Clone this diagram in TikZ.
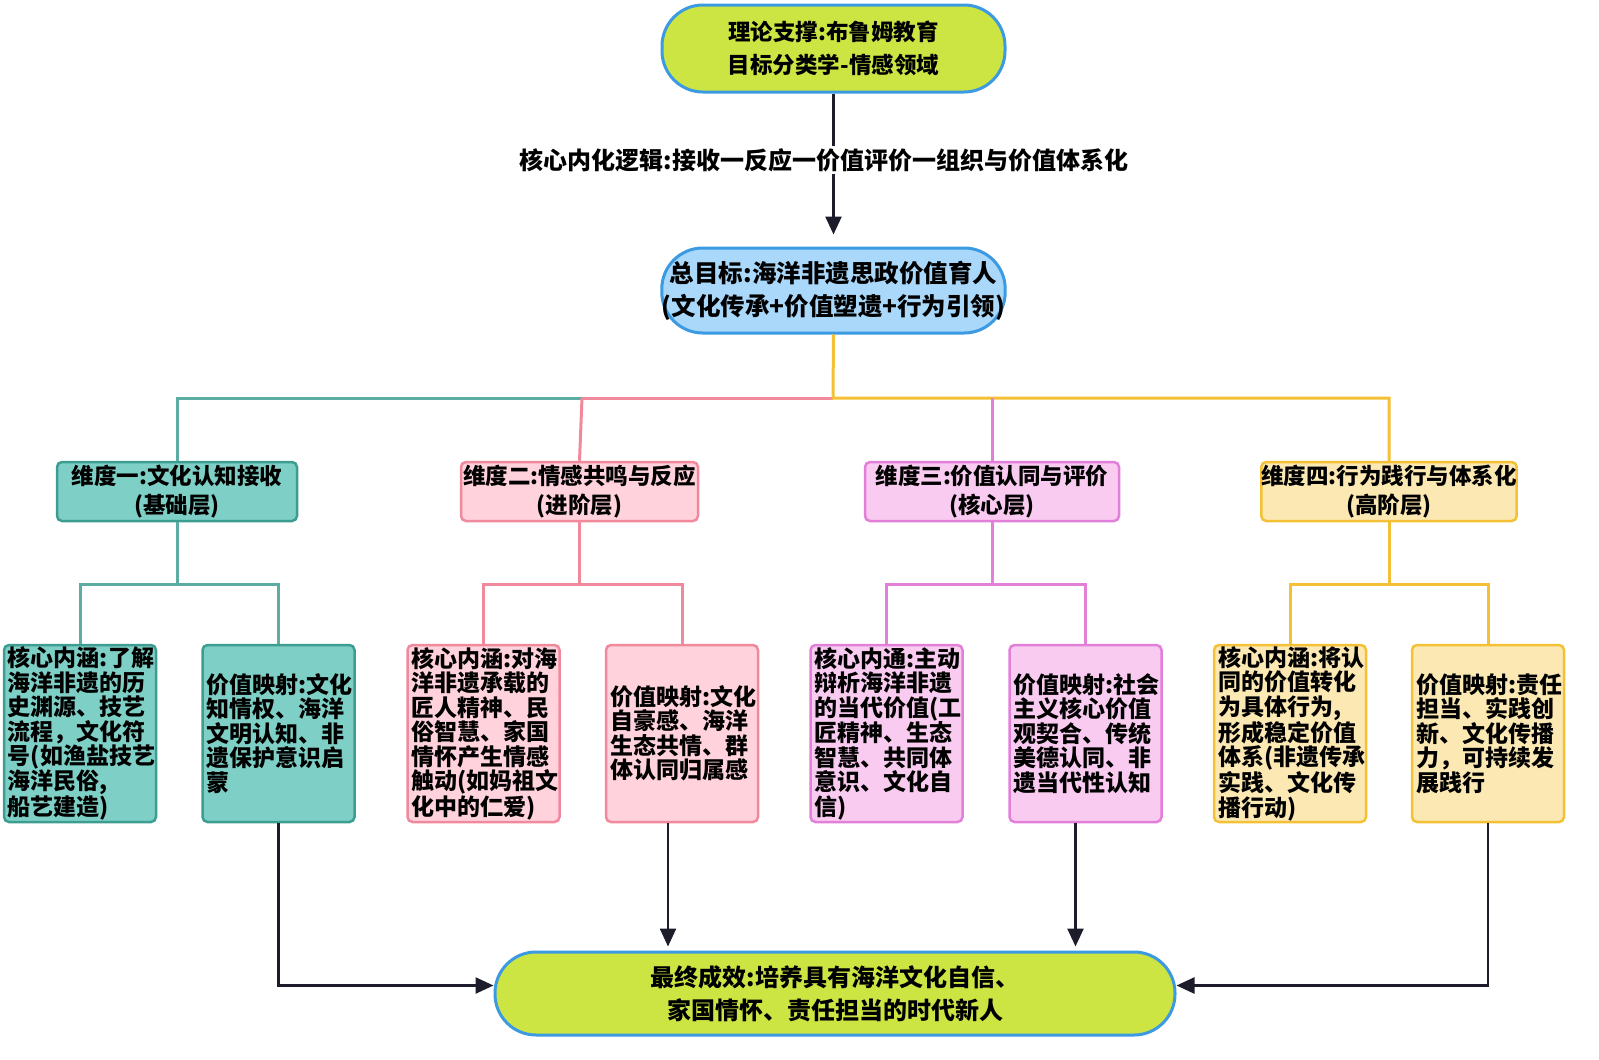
\documentclass[tikz,border=0pt]{standalone}
\usepackage{fontspec}
\setmainfont{Noto Sans CJK SC}
\usetikzlibrary{arrows.meta}
\definecolor{ygreen}{HTML}{CDE542}
\definecolor{bblue}{HTML}{3B9AE1}
\definecolor{lblue}{HTML}{A9D8FB}
\definecolor{tealF}{HTML}{7ECFC5}
\definecolor{tealD}{HTML}{3E9D91}
\definecolor{pinkF}{HTML}{FFD2DC}
\definecolor{pinkD}{HTML}{F0899C}
\definecolor{violF}{HTML}{F9CBF0}
\definecolor{violD}{HTML}{E27FD8}
\definecolor{yelF}{HTML}{FCE8B2}
\definecolor{yelD}{HTML}{F4C136}
\definecolor{darkA}{HTML}{1C1C2A}
\tikzset{
  pill/.style={draw=bblue, line width=3pt, rounded corners=41pt, align=center, inner sep=0pt,
    font=\bfseries\fontsize{22.5}{32.5}\selectfont},
  dimbox/.style={line width=2.5pt, rounded corners=5pt, align=center, inner sep=0pt,
    minimum width=240pt, minimum height=59pt, font=\bfseries\fontsize{22.5}{29}\selectfont},
  leaf/.style={line width=2.5pt, rounded corners=5pt, align=left, inner xsep=4pt, inner ysep=0pt,
    text width=144pt, minimum height=177pt, font=\bfseries\fontsize{23}{24.5}\selectfont},
  conn/.style={line width=3pt},
  arr/.style={line width=2.5pt, draw=darkA, -{Triangle[length=18pt,width=16pt]}},
}
\begin{document}
\begin{tikzpicture}[x=1pt,y=-1pt]
\useasboundingbox (0,0) rectangle (1599,1060);

% main chain
\node[pill, fill=ygreen, minimum width=343pt, minimum height=87pt] (top) at (833.5,48.5)
  {理论支撑:布鲁姆教育\\目标分类学-情感领域};
\node[pill, fill=lblue, minimum width=343pt, minimum height=85pt, font=\bfseries\fontsize{24.5}{33}\selectfont] (goal) at (833.5,290.5)
  {总目标:海洋非遗思政价值育人\\(文化传承+价值塑遗+行为引领)};
\node[pill, fill=ygreen, minimum width=680pt, minimum height=83pt, font=\bfseries\fontsize{24}{33}\selectfont] (final) at (835,993.5)
  {最终成效:培养具有海洋文化自信、\\家国情怀、责任担当的时代新人};

\draw[arr, shorten >=12pt] (top.south) -- (goal.north);
\node[fill=white, inner sep=2pt, font=\bfseries\fontsize{24}{28}\selectfont] (lbl) at (824,160)
  {核心内化逻辑:接收一反应一价值评价一组织与价值体系化};

% dimensions
\node[dimbox, draw=tealD, fill=tealF] (d1) at (177,491.5) {维度一:文化认知接收\\(基础层)};
\node[dimbox, draw=pinkD, fill=pinkF, minimum width=237pt] (d2) at (579.5,491.5) {维度二:情感共鸣与反应\\(进阶层)};
\node[dimbox, draw=violD, fill=violF, minimum width=254pt] (d3) at (992,491.5) {维度三:价值认同与评价\\(核心层)};
\node[dimbox, draw=yelD, fill=yelF, minimum width=254pt] (d4) at (1389,491.5) {维度四:行为践行与体系化\\(高阶层)};

\coordinate (hb) at (833,398);
\draw[conn, draw=tealD!85] (d1.north) |- (582,398);
\draw[conn, draw=pinkD] (582,398) -- (hb);
\draw[conn, draw=pinkD] (d2.north) -- (582,398);
\draw[conn, draw=yelD] (goal.south) -- (hb) -| (d4.north);
\draw[conn, draw=violD] (d3.north) -- (d3.north |- hb);

% leaves
\node[leaf, draw=tealD, fill=tealF] (l1a) at (80,733.5)
  {核心内涵:了解\\海洋非遗的历\\史渊源、技艺\\流程，文化符\\号(如渔盐技艺\\海洋民俗,\\船艺建造)};
\node[leaf, draw=tealD, fill=tealF] (l1b) at (278.5,733.5)
  {价值映射:文化\\知情权、海洋\\文明认知、非\\遗保护意识启\\蒙};
\node[leaf, draw=pinkD, fill=pinkF] (l2a) at (483.5,733.5)
  {核心内涵:对海\\洋非遗承载的\\匠人精神、民\\俗智慧、家国\\情怀产生情感\\触动(如妈祖文\\化中的仁爱)};
\node[leaf, draw=pinkD, fill=pinkF] (l2b) at (682,733.5)
  {价值映射:文化\\自豪感、海洋\\生态共情、群\\体认同归属感};
\node[leaf, draw=violD, fill=violF] (l3a) at (886.5,733.5)
  {核心内通:主动\\辩析海洋非遗\\的当代价值(工\\匠精神、生态\\智慧、共同体\\意识、文化自\\信)};
\node[leaf, draw=violD, fill=violF] (l3b) at (1085.5,733.5)
  {价值映射:社会\\主义核心价值\\观契合、传统\\美德认同、非\\遗当代性认知};
\node[leaf, draw=yelD, fill=yelF] (l4a) at (1290,733.5)
  {核心内涵:将认\\同的价值转化\\为具体行为,\\形成稳定价值\\体系(非遗传承\\实践、文化传\\播行动)};
\node[leaf, draw=yelD, fill=yelF] (l4b) at (1488,733.5)
  {价值映射:责任\\担当、实践创\\新、文化传播\\力，可持续发\\展践行};

% branches
\draw[conn, draw=tealD!85] (d1.south) -- ++(0,62) coordinate (b1);
\draw[conn, draw=tealD!85] (l1a.north) |- (b1) -| (l1b.north);
\draw[conn, draw=pinkD] (d2.south) -- ++(0,62) coordinate (b2);
\draw[conn, draw=pinkD] (l2a.north) |- (b2) -| (l2b.north);
\draw[conn, draw=violD] (d3.south) -- ++(0,62) coordinate (b3);
\draw[conn, draw=violD] (l3a.north) |- (b3) -| (l3b.north);
\draw[conn, draw=yelD] (d4.south) -- ++(0,62) coordinate (b4);
\draw[conn, draw=yelD] (l4a.north) |- (b4) -| (l4b.north);

% arrows to final
\draw[arr] (l1b.south) |- ([yshift=8pt]final.west);
\draw[arr] (l4b.south) |- ([yshift=8pt]final.east);
\draw[arr, shorten >=4pt] ([xshift=-14pt]l2b.south) -- ([xshift=-14pt]l2b.south |- final.north);
\draw[arr, shorten >=4pt] ([xshift=-10pt]l3b.south) -- ([xshift=-10pt]l3b.south |- final.north);
\end{tikzpicture}
\end{document}
